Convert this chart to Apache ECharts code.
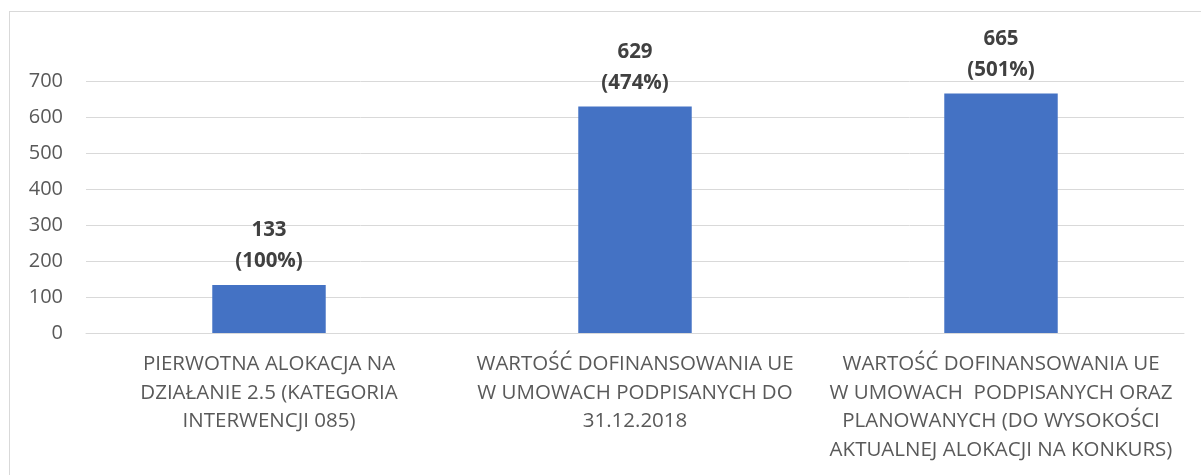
<!DOCTYPE html>
<html>
<head>
    <meta charset="utf-8">
    <script src="https://cdn.jsdelivr.net/npm/echarts@6/dist/echarts.min.js"></script>
    <style>
        body { margin: 0; background: #fff; }
        #frame { position: absolute; left: 9px; top: 11px; width: 1300px; height: 600px; border: 1px solid #d9d9d9; }
        #container { position: absolute; left: 0; top: 0; width: 1201px; height: 475px; }
    </style>
</head>
<body>
<div id="frame"></div>
<div id="container"></div>
<script>
    // dane z wykresu (mln zł)
    let categories = [
        'PIERWOTNA ALOKACJA NA\nDZIAŁANIE 2.5 (KATEGORIA\nINTERWENCJI 085)',
        'WARTOŚĆ DOFINANSOWANIA UE\nW UMOWACH PODPISANYCH DO\n31.12.2018',
        'WARTOŚĆ DOFINANSOWANIA UE\nW UMOWACH  PODPISANYCH ORAZ\nPLANOWANYCH (DO WYSOKOŚCI\nAKTUALNEJ ALOKACJI NA KONKURS)'
    ];
    let values = [133, 629, 665];
    let percents = ['100%', '474%', '501%'];

    let dom = document.getElementById("container");
    let myChart = echarts.init(dom);
    let font = '"Open Sans", sans-serif';
    let option = {
        animation: false,
        grid: {
            left: 86,
            right: 17,
            top: 81,
            bottom: 142
        },
        xAxis: {
            type: 'category',
            data: categories,
            axisTick: {show: false},
            axisLine: {lineStyle: {color: '#d9d9d9', width: 1}},
            axisLabel: {
                interval: 0,
                margin: 17,
                color: '#595959',
                fontFamily: font,
                fontSize: 20.5,
                lineHeight: 28.5
            }
        },
        yAxis: {
            type: 'value',
            min: 0,
            max: 700,
            interval: 100,
            axisLine: {show: false},
            axisTick: {show: false},
            splitLine: {lineStyle: {color: '#d9d9d9', width: 1}},
            axisLabel: {
                margin: 23,
                color: '#595959',
                fontFamily: font,
                fontSize: 20
            }
        },
        series: [{
            type: 'bar',
            data: values,
            barWidth: '31%',
            itemStyle: {color: '#4472C4'},
            label: {
                show: true,
                position: 'top',
                distance: 8,
                color: '#404040',
                fontWeight: 'bold',
                fontFamily: font,
                fontSize: 20.5,
                lineHeight: 31,
                formatter: function (p) {
                    return p.value + '\n(' + percents[p.dataIndex] + ')';
                }
            }
        }]
    };
    myChart.setOption(option);
</script>
</body>
</html>
